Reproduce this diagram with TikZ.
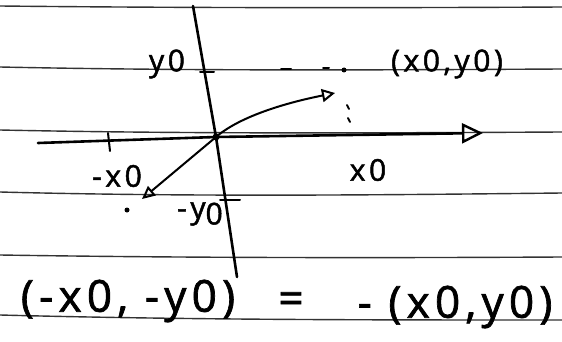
\documentclass[tikz,border=0pt]{standalone}
\usepackage{fontspec}
\setmainfont{Open Sans}
\newfontfamily\handfont[LetterSpace=12,FakeBold=1.6]{Open Sans}
\usetikzlibrary{arrows.meta}
\begin{document}
\begin{tikzpicture}[x=1pt,y=-1pt,
  rule/.style={line width=1.4pt, draw=black!80},
  axis/.style={line width=2.6pt, line cap=round},
  vec/.style={line width=2pt, line cap=round},
  tickmark/.style={line width=2pt, line cap=round},
  dotmark/.style={circle, fill=black, inner sep=0pt, minimum size=5pt},
  hand/.style={inner sep=0pt, font=\handfont\fontsize{30}{32}\selectfont},
  bighand/.style={inner sep=0pt, font=\handfont\fontsize{44}{48}\selectfont},
]
\useasboundingbox (0,0) rectangle (562,342);
\fill[white] (0,0) rectangle (562,342);
% ruled lines of the paper
\draw[rule] (0,6) .. controls (190,8) and (380,8) .. (562,7);
\draw[rule] (0,67) .. controls (190,71) and (380,70) .. (562,69);
\draw[rule] (0,130) .. controls (190,134) and (380,133) .. (562,132);
\draw[rule] (0,192) .. controls (190,197) and (380,195) .. (562,193);
\draw[rule] (0,255) .. controls (190,258) and (380,258) .. (562,257);
\draw[rule] (0,315) .. controls (190,320) and (380,320) .. (562,320);
% axes
\coordinate (O) at (216,137);
\coordinate (ytop) at (193,6);
\coordinate (ybot) at (237,277);
\coordinate (xl) at (38,143);
\coordinate (xr) at (483,133);
\draw[axis] (ytop) -- (O) -- (ybot);
\draw[axis, -{Triangle[open, length=21pt, width=20pt, line width=2.4pt]}] (xl) -- (O) -- (xr);
\fill (O) circle (3.5pt);
% ticks
\coordinate (tx1) at (108,133);
\coordinate (tx2) at (110,151);
\draw[tickmark] (tx1) -- (tx2);
\coordinate (ty1) at (200,72);
\coordinate (ty2) at (214,72);
\draw[tickmark] (ty1) -- (ty2);
\coordinate (tny1) at (220,200);
\coordinate (tny2) at (240,200);
\draw[tickmark] (tny1) -- (tny2);
% point (x0,y0) and guides
\node[dotmark] (P) at (344,70) {};
\coordinate (d1a) at (281,69); \coordinate (d1b) at (291,69);
\coordinate (d2a) at (323,68); \coordinate (d2b) at (329,68);
\draw[tickmark] (d1a) -- (d1b);
\draw[tickmark] (d2a) -- (d2b);
\coordinate (v1a) at (347,105); \coordinate (v1b) at (349,109);
\coordinate (v2a) at (348,118); \coordinate (v2b) at (350,122);
\draw[tickmark] (v1a) -- (v1b);
\draw[tickmark] (v2a) -- (v2b);
% vector towards (x0,y0)
\coordinate (V) at (335,93);
\draw[vec, -{Triangle[open, length=13pt, width=13pt, line width=2pt]}] (O) .. controls (238,118) and (280,104) .. (V);
% vector towards (-x0,-y0)
\coordinate (W) at (142,199);
\draw[vec, -{Triangle[open, length=13pt, width=12pt, line width=2pt]}] (O) -- (W);
\node[dotmark] (Q) at (127,210) {};
% labels
\node[hand] (ly0) at (167,64) {y0};
\node[hand] (lP) at (447,64) {(x0,y0)};
\node[hand] (lmx0) at (117,176) {-x0};
\node[hand] (lx0) at (368,170) {x0};
\node[hand] (lmy0) at (200,214) {-y\raisebox{-6pt}{0}};
% bottom equation
\node[bighand] (eqL) at (128,301) {(-x0, -y0)};
\node[bighand] (eqE) at (291,303) {=};
\node[bighand] (eqR) at (455,307) {- (x0,y0)};
\end{tikzpicture}
\end{document}
